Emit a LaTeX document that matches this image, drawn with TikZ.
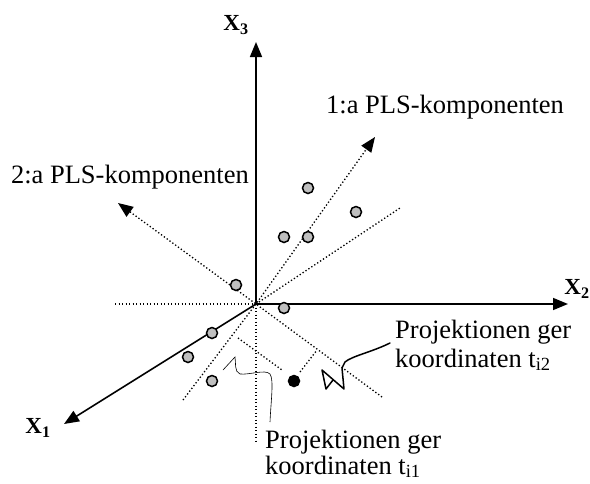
\documentclass[tikz,border=0pt]{standalone}
\usepackage{fontspec}
\setmainfont{Liberation Serif}
\usetikzlibrary{arrows.meta}
\begin{document}
\begin{tikzpicture}[x=1pt,y=-1pt,
  axis/.style={line width=1.6pt,-{Triangle[length=15pt,width=12pt]}},
  dots/.style={line width=1.3pt,dash pattern=on 1.3pt off 2.2pt},
  dotarrow/.style={dots,-{Triangle[length=15pt,width=12pt]}},
  obs/.style={circle,draw,line width=1.5pt,fill=black!25,minimum size=11pt,inner sep=0pt},
  proj/.style={circle,draw,line width=1.5pt,fill=black,minimum size=11pt,inner sep=0pt},
  lbl/.style={font=\fontsize{26.5}{30}\selectfont,inner sep=0pt},
  axlbl/.style={font=\fontsize{23}{27}\selectfont\bfseries,inner sep=0pt}]
\useasboundingbox (0,0) rectangle (590,483);
% key points
\coordinate (O) at (256,304);
\coordinate (x3end) at (256,42);
\coordinate (x2end) at (568,304);
\coordinate (x1end) at (64,424);
\coordinate (hleft) at (115,304);
\coordinate (vdown) at (256,443);
\coordinate (pc1low) at (183,400);
\coordinate (pc1tip) at (375,137);
\coordinate (pc2low) at (382,397);
\coordinate (pc2tip) at (118,203);
\coordinate (diagend) at (400,208);
\coordinate (pa) at (238,338);
\coordinate (pb) at (282,370);
\coordinate (pcc) at (300,372);
\coordinate (pd) at (317,350);
% dotted lines
\draw[dots] (hleft) -- (O);
\draw[dots] (O) -- (vdown);
\draw[dots] (O) -- (diagend);
\draw[dotarrow] (pc1low) -- (O) -- (pc1tip);
\draw[dotarrow] (pc2low) -- (O) -- (pc2tip);
\draw[dots] (pa) -- (pb);
\draw[dots] (pcc) -- (pd);
% axes
\draw[axis] (O) -- (x3end);
\draw[axis] (O) -- (x2end);
\draw[axis] (O) -- (x1end);
% axis labels
\node[axlbl] (lx3) at (236,25) {X\textsubscript{3}};
\node[axlbl] (lx2) at (577,289) {X\textsubscript{2}};
\node[axlbl] (lx1) at (38,428) {X\textsubscript{1}};
% observations
\foreach \n/\p in {a/{(308,188)},b/{(356,212)},c/{(284,237)},d/{(308,237)},e/{(236,285)},f/{(284,308)},g/{(212,333)},h/{(188,357)},i/{(212,381)}}
  \node[obs] (obs\n) at \p {};
\node[proj] (black) at (294,381) {};
% text labels
\node[lbl,anchor=base west] (pls1) at (326,113) {1:a PLS-komponenten};
\node[lbl,anchor=base east] (pls2) at (249,183) {2:a PLS-komponenten};
\node[lbl,anchor=base west] (ti2a) at (395,338) {Projektionen ger};
\node[lbl,anchor=base west] (ti2b) at (395,367) {koordinaten t\textsubscript{i2}};
\node[lbl,anchor=base west] (ti1a) at (265,448) {Projektionen ger};
\node[lbl,anchor=base west] (ti1b) at (265,474) {koordinaten t\textsubscript{i1}};
% pointer to t_i2
\draw[line width=1.5pt,line join=round,line cap=round]
  (ti2a.base west) ++(-5,5) .. controls (372,352) and (352,356) .. (345,362)
  -- (342,368) -- (344,389) -- (322,370) -- (326,389) -- (333,380);
% pointer to t_i1
\draw[line width=0.6pt]
  (ti1a.base west) ++(5,-26) .. controls (271,400) and (274,380) .. (270,374)
  .. controls (265,369) and (250,375) .. (240,374)
  .. controls (234,372) and (236,362) .. (235,357) -- (223,370);
\end{tikzpicture}
\end{document}
